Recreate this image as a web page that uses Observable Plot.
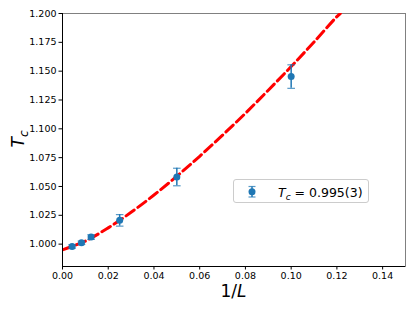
<!DOCTYPE html>
<html>
<head>
<meta charset="utf-8">
<script src="https://cdn.jsdelivr.net/npm/d3@7"></script>
<script src="https://cdn.jsdelivr.net/npm/@observablehq/plot@0.6"></script>
<style>
  html, body { margin: 0; padding: 0; background: #fff; }
  #wrap { position: relative; width: 415px; height: 311px; font-family: "DejaVu Sans", sans-serif; }
  #legend { position: absolute; left: 233px; top: 179px; width: 136px; height: 24px;
            border: 1px solid #cccccc; border-radius: 3px; background: #fff; box-sizing: border-box; }
  #legend svg { position: absolute; left: 0; top: 0; }
</style>
</head>
<body>
<div id="wrap"></div>
<script>
// Data points (1/L, Tc, error)
const invL  = [0.0042, 0.0083, 0.0125, 0.025, 0.05, 0.10];
const tc    = [0.998, 1.0012, 1.0061, 1.0206, 1.0582, 1.1453];
const tcErr = [0.0015, 0.0015, 0.002, 0.005, 0.0076, 0.0102];

// Fit curve
const fitX = [0, 0.01, 0.02, 0.03, 0.04, 0.05, 0.06, 0.07, 0.08, 0.09, 0.10, 0.11, 0.12, 0.1215];
const fitY = [0.995, 1.0027, 1.0141, 1.0276, 1.0426, 1.0589, 1.0762, 1.0945, 1.1135, 1.1335, 1.154, 1.1753, 1.1973, 1.200];

// Axis ticks
const xTicks = [0, 0.02, 0.04, 0.06, 0.08, 0.10, 0.12, 0.14];
const yTicks = [1.000, 1.025, 1.050, 1.075, 1.100, 1.125, 1.150, 1.175, 1.200];
const xDomain = [0, 0.15];
const yDomain = [0.9806, 1.2];

const legendLabel = "0.995(3)";

const points = invL.map((x, i) => ({x, y: tc[i], lo: tc[i] - tcErr[i], hi: tc[i] + tcErr[i]}));
const fit = fitX.map((x, i) => ({x, y: fitY[i]}));

const blue = "#1f77b4";
const capSymbol = { draw(ctx, size) { const r = 3.8; ctx.moveTo(-r, 0); ctx.lineTo(r, 0); } };

const chart = Plot.plot({
  width: 415,
  height: 311,
  marginLeft: 62,
  marginRight: 10,
  marginTop: 13,
  marginBottom: 45,
  style: { fontFamily: "DejaVu Sans, sans-serif", fontSize: "9.5px", color: "#000", background: "#fff" },
  x: { domain: xDomain, ticks: xTicks, tickFormat: d3.format(".2f") },
  y: { domain: yDomain, ticks: yTicks, tickFormat: d3.format(".3f") },
  marks: [
    Plot.frame({ stroke: "#808080", strokeWidth: 1 }),
    Plot.line(fit, { x: "x", y: "y", stroke: "#ff0000", strokeWidth: 3, strokeDasharray: "10,4.5", curve: "catmull-rom", clip: true }),
    Plot.ruleX(points, { x: "x", y1: "lo", y2: "hi", stroke: blue, strokeWidth: 1.5 }),
    Plot.dot(points, { x: "x", y: "lo", symbol: capSymbol, stroke: blue, strokeWidth: 1.2, strokeOpacity: 0.75, r: 3 }),
    Plot.dot(points, { x: "x", y: "hi", symbol: capSymbol, stroke: blue, strokeWidth: 1.2, strokeOpacity: 0.75, r: 3 }),
    Plot.dot(points, { x: "x", y: "y", fill: blue, stroke: "none", r: 3.5 }),
    Plot.ruleX([xDomain[0]], { stroke: "#000", strokeWidth: 1 }),
    Plot.ruleY([yDomain[0]], { stroke: "#000", strokeWidth: 1 }),
    Plot.axisX({ ticks: xTicks, tickFormat: d3.format(".2f"), tickSize: 3.5, tickPadding: 2.5, label: null, stroke: "#000" }),
    Plot.axisY({ ticks: yTicks, tickFormat: d3.format(".3f"), tickSize: 3.5, tickPadding: 2.5, label: null, stroke: "#000" })
  ]
});

const wrap = document.getElementById("wrap");
wrap.appendChild(chart);

// Axis labels
const svg = d3.select(chart);
const xl = svg.append("text")
  .attr("x", 233.5).attr("y", 297)
  .attr("text-anchor", "middle")
  .style("font-family", "DejaVu Sans, sans-serif")
  .style("font-size", "17px").attr("fill", "#000");
xl.append("tspan").text("1/");
xl.append("tspan").attr("font-style", "italic").text("L");

const yl = svg.append("text")
  .attr("transform", "translate(24,139) rotate(-90)")
  .attr("text-anchor", "middle")
  .style("font-family", "DejaVu Sans, sans-serif")
  .style("font-size", "17px").attr("fill", "#000");
yl.append("tspan").attr("font-style", "italic").text("T");
yl.append("tspan").attr("font-style", "italic").attr("font-size", "12px").attr("dy", "4").text("c");

// Legend
const legend = document.createElement("div");
legend.id = "legend";
wrap.appendChild(legend);
const ls = d3.select(legend).append("svg").attr("width", 136).attr("height", 24);
ls.append("line").attr("x1", 18).attr("x2", 18).attr("y1", 6.5).attr("y2", 17).attr("stroke", blue).attr("stroke-width", 1.5);
ls.append("line").attr("x1", 14.5).attr("x2", 21.5).attr("y1", 6.5).attr("y2", 6.5).attr("stroke", blue).attr("stroke-width", 1.2).attr("stroke-opacity", 0.75);
ls.append("line").attr("x1", 14.5).attr("x2", 21.5).attr("y1", 17).attr("y2", 17).attr("stroke", blue).attr("stroke-width", 1.2).attr("stroke-opacity", 0.75);
ls.append("circle").attr("cx", 18).attr("cy", 11.7).attr("r", 3.5).attr("fill", blue);
const lt = ls.append("text").attr("x", 44).attr("y", 16.5)
  .style("font-family", "DejaVu Sans, sans-serif").style("font-size", "12.5px").attr("fill", "#000");
lt.append("tspan").attr("font-style", "italic").text("T");
lt.append("tspan").attr("font-style", "italic").attr("font-size", "9px").attr("dy", "3").text("c");
lt.append("tspan").attr("dy", "-3").text(" = " + legendLabel);
</script>
</body>
</html>
